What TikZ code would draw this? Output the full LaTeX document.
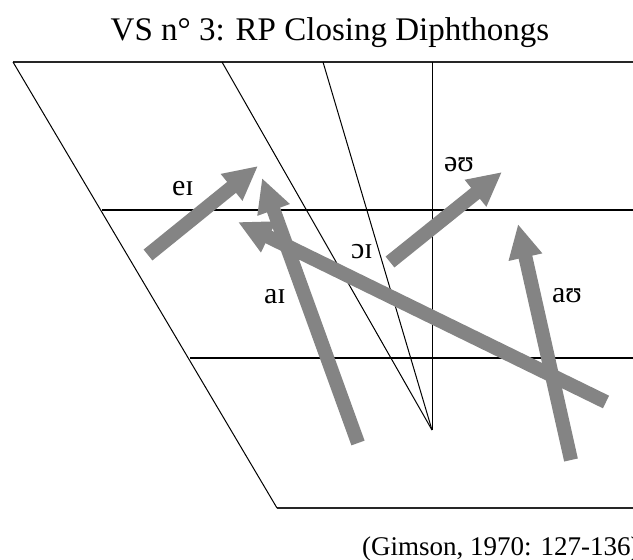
\documentclass[tikz,border=0pt]{standalone}
\usepackage{fontspec}
\setmainfont{Liberation Serif}
\usepackage{tikz}
\usetikzlibrary{arrows.meta}
\definecolor{arrowgray}{RGB}{132,132,132}

\begin{document}
\begin{tikzpicture}[
    x=1pt, y=-1pt,
    grid/.style={draw=black, line width=1pt},
    frame/.style={draw=black!85, line width=2pt},
    diph/.style={draw=arrowgray, line width=14pt, -{Triangle[length=34pt, width=32pt]}},
    ipa/.style={font=\fontsize{30}{30}\selectfont, inner sep=0pt},
    title/.style={font=\fontsize{33}{36}\selectfont, inner sep=0pt},
]
    \useasboundingbox (0,0) rectangle (633,560);

    % Chart corners
    \coordinate (tl) at (13,62);
    \coordinate (tr) at (633,62);
    \coordinate (midl) at (102,210);
    \coordinate (midr) at (633,210);
    \coordinate (lowl) at (190,358);
    \coordinate (lowr) at (633,358);
    \coordinate (bl) at (277,508);
    \coordinate (br) at (633,508);
    \coordinate (c1) at (222,62);
    \coordinate (c2) at (323,62);
    \coordinate (c3) at (432,62);
    \coordinate (apex) at (432,430);

    % Chart lines
    \draw[frame] (tl) -- (tr);
    \draw[frame] (bl) -- (br);
    \draw[grid] (tl) -- (bl);
    \draw[grid, line width=1.5pt] (midl) -- (midr);
    \draw[grid, line width=1.5pt] (lowl) -- (lowr);
    \draw[grid] (c1) -- (apex);
    \draw[grid] (c2) -- (apex);
    \draw[grid] (c3) -- (apex);

    % Diphthong end points
    \coordinate (ei-a) at (148,255);
    \coordinate (ei-b) at (258,166);
    \coordinate (ai-a) at (358,443);
    \coordinate (ai-b) at (262,178);
    \coordinate (oi-a) at (606,402);
    \coordinate (oi-b) at (238,222);
    \coordinate (ou-a) at (390,262);
    \coordinate (ou-b) at (502,172);
    \coordinate (au-a) at (571,460);
    \coordinate (au-b) at (518,224);

    % Arrows
    \draw[diph] (ei-a) -- (ei-b);
    \draw[diph] (ai-a) -- (ai-b);
    \draw[diph] (oi-a) -- (oi-b);
    \draw[diph] (ou-a) -- (ou-b);
    \draw[diph] (au-a) -- (au-b);

    % Labels
    \node[title, anchor=base] (heading) at (330,40) {VS n° 3: RP Closing Diphthongs};
    \node[ipa] (ei) at (183,189) {eɪ};
    \node[ipa] (ai) at (275,297) {aɪ};
    \node[ipa] (oi) at (362,252) {ɔɪ};
    \node[ipa] (ou) at (459,165) {əʊ};
    \node[ipa] (au) at (567,296) {aʊ};
    \node[title, font=\fontsize{27}{30}\selectfont, anchor=base west] (source) at (362,555) {(Gimson, 1970: 127-136)};
\end{tikzpicture}
\end{document}
